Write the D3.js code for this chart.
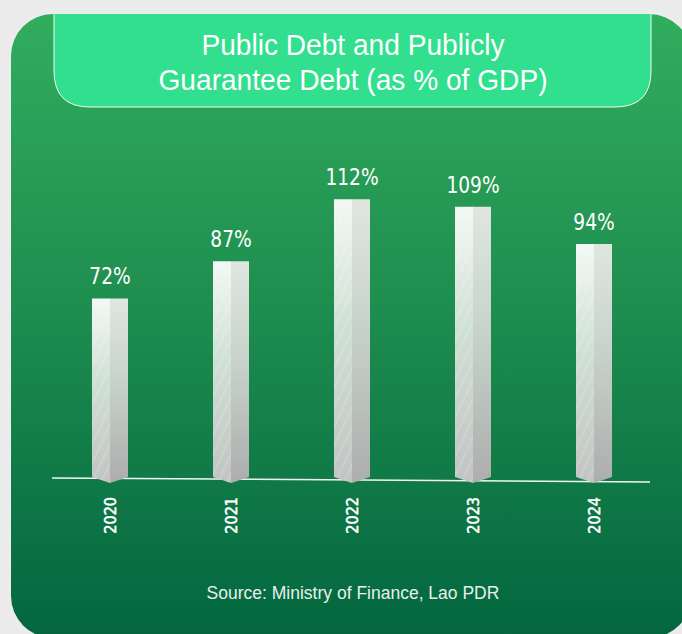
<!DOCTYPE html>
<html>
<head>
<meta charset="utf-8">
<script src="https://cdn.jsdelivr.net/npm/d3@7"></script>
<style>
  body { margin: 0; background: #ececec; }
  svg { display: block; }
</style>
</head>
<body>
<script>
// chart data
var years = ["2020", "2021", "2022", "2023", "2024"];
var debt = [72, 87, 112, 109, 94];
var titleLines = ["Public Debt and Publicly", "Guarantee Debt (as % of GDP)"];
var sourceText = "Source: Ministry of Finance, Lao PDR";

var W = 682, H = 634;
var svg = d3.select("body").append("svg").attr("width", W).attr("height", H);
var defs = svg.append("defs");

// card background gradient
var cardGrad = defs.append("linearGradient").attr("id", "cardGrad")
    .attr("x1", 0).attr("y1", 0).attr("x2", 0).attr("y2", 1);
cardGrad.append("stop").attr("offset", "0%").attr("stop-color", "#31ad5d");
cardGrad.append("stop").attr("offset", "45%").attr("stop-color", "#1f8f50");
cardGrad.append("stop").attr("offset", "100%").attr("stop-color", "#03663f");

var leftGrad = defs.append("linearGradient").attr("id", "leftFace")
    .attr("x1", 0).attr("y1", 0).attr("x2", 0).attr("y2", 1);
leftGrad.append("stop").attr("offset", "0%").attr("stop-color", "#f3f8f4");
leftGrad.append("stop").attr("offset", "45%").attr("stop-color", "#cfe0d4");
leftGrad.append("stop").attr("offset", "100%").attr("stop-color", "#c2c4c3");

var rightGrad = defs.append("linearGradient").attr("id", "rightFace")
    .attr("x1", 0).attr("y1", 0).attr("x2", 0).attr("y2", 1);
rightGrad.append("stop").attr("offset", "0%").attr("stop-color", "#dfe6e0");
rightGrad.append("stop").attr("offset", "45%").attr("stop-color", "#c7d3ca");
rightGrad.append("stop").attr("offset", "100%").attr("stop-color", "#adadad");

// faint diagonal stripes on the lit face
var stripes = defs.append("pattern").attr("id", "stripes")
    .attr("patternUnits", "userSpaceOnUse").attr("width", 9).attr("height", 22)
    .attr("patternTransform", "skewX(-25)");
stripes.append("line").attr("x1", 2).attr("y1", 0).attr("x2", 2).attr("y2", 22)
    .attr("stroke", "#ffffff").attr("stroke-opacity", 0.35).attr("stroke-width", 0.8);

// card
svg.append("rect")
    .attr("x", 11).attr("y", 14).attr("width", 680).attr("height", 624)
    .attr("rx", 42).attr("fill", "url(#cardGrad)");

// title tab (square top, rounded bottom)
var tx0 = 54, tx1 = 651, ty0 = 14, ty1 = 107, tr = 36;
var tabPath = d3.path();
tabPath.moveTo(tx0, ty0);
tabPath.lineTo(tx0, ty1 - tr);
tabPath.quadraticCurveTo(tx0, ty1, tx0 + tr, ty1);
tabPath.lineTo(tx1 - tr, ty1);
tabPath.quadraticCurveTo(tx1, ty1, tx1, ty1 - tr);
tabPath.lineTo(tx1, ty0);
svg.append("path").attr("d", tabPath.toString())
    .attr("fill", "#31df8e").attr("stroke", "#e9fff2").attr("stroke-width", 1);

svg.append("g").selectAll("text").data(titleLines).join("text")
    .attr("transform", function(d, i) { return "translate(353," + (55 + i * 35) + ") scale(0.97,1)"; })
    .attr("text-anchor", "middle")
    .attr("font-family", "'Liberation Sans', Arial, sans-serif")
    .attr("font-size", 29).attr("fill", "#ffffff")
    .text(function(d) { return d; });

// scales
var x = d3.scalePoint().domain(years).range([110, 594]);
var y = d3.scaleLinear().domain([0, 120]).range([477, 477 - 2.48 * 120]);
var half = 18, tip = 6;

// baseline
svg.append("line")
    .attr("x1", 52).attr("y1", 478).attr("x2", 650).attr("y2", 482)
    .attr("stroke", "#f2f7f3").attr("stroke-width", 1.5);

function leftFace(d, i) {
    var c = x(d), t = y(debt[i]), b = y(0);
    return "M" + (c - half) + "," + t + "L" + c + "," + t + "L" + c + "," + (b + tip) + "L" + (c - half) + "," + b + "Z";
}

var bars = svg.append("g").selectAll("g").data(years).join("g");

bars.append("path").attr("d", leftFace).attr("fill", "url(#leftFace)");
bars.append("path").attr("d", leftFace).attr("fill", "url(#stripes)");
bars.append("path")
    .attr("d", function(d, i) {
        var c = x(d), t = y(debt[i]), b = y(0);
        return "M" + c + "," + t + "L" + (c + half) + "," + t + "L" + (c + half) + "," + b + "L" + c + "," + (b + tip) + "Z";
    })
    .attr("fill", "url(#rightFace)");

// value labels
bars.append("text")
    .attr("transform", function(d, i) { return "translate(" + x(d) + "," + (y(debt[i]) - 14) + ") scale(0.9,1)"; })
    .attr("text-anchor", "middle")
    .attr("font-family", "'DejaVu Sans Condensed', 'DejaVu Sans', sans-serif")
    .attr("font-size", 23).attr("fill", "#ffffff")
    .text(function(d, i) { return debt[i] + "%"; });

// year labels (rotated)
bars.append("text")
    .attr("transform", function(d) { return "translate(" + (x(d) + 6) + ",497) rotate(-90)"; })
    .attr("text-anchor", "end")
    .attr("font-family", "'DejaVu Sans Condensed', 'DejaVu Sans', sans-serif")
    .attr("font-size", 16).attr("fill", "#ffffff")
    .attr("stroke", "#ffffff").attr("stroke-width", 0.5)
    .text(function(d) { return d; });

// source note
svg.append("text")
    .attr("x", 353).attr("y", 599)
    .attr("text-anchor", "middle")
    .attr("font-family", "'Liberation Sans', Arial, sans-serif")
    .attr("font-size", 17.5).attr("fill", "#e6f1ea")
    .text(sourceText);
</script>
</body>
</html>
